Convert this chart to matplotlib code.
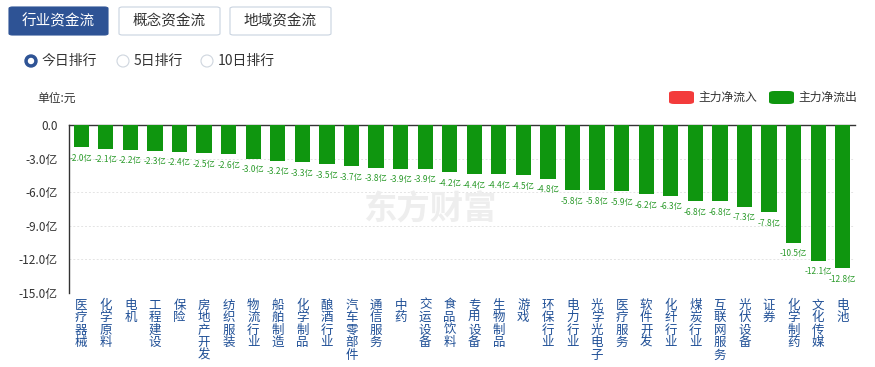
"""Industry money-flow bar chart (主力净流出), 今日排行."""

import matplotlib
matplotlib.use("Agg")
import matplotlib.pyplot as plt
from matplotlib.patches import FancyBboxPatch, Circle

plt.rcParams["font.family"] = ["Noto Sans CJK SC", "DejaVu Sans"]

# ---- data ----
industries = ["医疗器械", "化学原料", "电机", "工程建设", "保险", "房地产开发", "纺织服装",
              "物流行业", "船舶制造", "化学制品", "酿酒行业", "汽车零部件", "通信服务", "中药",
              "交运设备", "食品饮料", "专用设备", "生物制品", "游戏", "环保行业", "电力行业",
              "光学光电子", "医疗服务", "软件开发", "化纤行业", "煤炭行业", "互联网服务",
              "光伏设备", "证券", "化学制药", "文化传媒", "电池"]
net_flow = [-2.0, -2.1, -2.2, -2.3, -2.4, -2.5, -2.6, -3.0, -3.2, -3.3, -3.5, -3.7, -3.8,
            -3.9, -3.9, -4.2, -4.4, -4.4, -4.5, -4.8, -5.8, -5.8, -5.9, -6.2, -6.3, -6.8,
            -6.8, -7.3, -7.8, -10.5, -12.1, -12.8]
y_ticks = [0, -3, -6, -9, -12, -15]
tabs = ["行业资金流", "概念资金流", "地域资金流"]
ranks = ["今日排行", "5日排行", "10日排行"]

GREEN = "#0f960f"
RED = "#f33b3b"
BLUE = "#2e5395"
LABEL_BLUE = "#1f4f96"

W, H = 875, 367
fig = plt.figure(figsize=(W / 100, H / 100), dpi=100)


def px(x, y):
    """pixel coords (top-left origin) -> figure fraction"""
    return x / W, 1 - y / H


# ---- header tabs ----
tab_x = [9, 119, 230]
tab_w = [99, 101, 101]
for i, (name, x0, w) in enumerate(zip(tabs, tab_x, tab_w)):
    active = i == 0
    fx, fy = px(x0, 35)
    box = FancyBboxPatch((fx, fy), w / W, 28 / H, transform=fig.transFigure,
                         boxstyle="round,pad=0,rounding_size=0.004",
                         facecolor=BLUE if active else "white",
                         edgecolor=BLUE if active else "#c9d3e0", linewidth=0.8)
    fig.patches.append(box)
    tx, ty = px(x0 + w / 2, 21)
    fig.text(tx, ty, name, ha="center", va="center", fontsize=10.5,
             color="white" if active else "#333333")

# ---- radio buttons ----
radio_x = [31, 123, 207]
for i, (name, x0) in enumerate(zip(ranks, radio_x)):
    cx, cy = px(x0, 61)
    r = 5.5 / W
    if i == 0:
        fig.patches.append(Circle((x0, H - 61), 6, transform=None, facecolor=BLUE,
                                  edgecolor=BLUE))
        fig.patches.append(Circle((x0, H - 61), 2.5, transform=None, facecolor="white",
                                  edgecolor="white"))
    else:
        fig.patches.append(Circle((x0, H - 61), 6, transform=None, facecolor="white",
                                  edgecolor="#cfd6df", linewidth=0.8))
    tx, ty = px(x0 + 11, 61)
    fig.text(tx, ty, name, ha="left", va="center", fontsize=10, color="#333333")

# ---- unit + legend ----
fig.text(*px(37, 98), "单位:元", ha="left", va="center", fontsize=8.5, color="#333333")
for color, x0, name in [(RED, 669, "主力净流入"), (GREEN, 769, "主力净流出")]:
    fx, fy = px(x0, 104)
    fig.patches.append(FancyBboxPatch((fx, fy), 25 / W, 13 / H, transform=fig.transFigure,
                                      boxstyle="round,pad=0,rounding_size=0.006",
                                      facecolor=color, edgecolor="none"))
    fig.text(*px(x0 + 29, 97.5), name, ha="left", va="center", fontsize=8.5,
             color="#333333")

# ---- watermark ----
fig.text(*px(430, 210), "东方财富", ha="center", va="center", fontsize=24,
         fontweight="bold", color="#eeeeee", zorder=0)

# ---- chart ----
left, right, top, bottom = 69, 855, 125, 293
ax = fig.add_axes([left / W, 1 - bottom / H, (right - left) / W, (bottom - top) / H])
ax.patch.set_alpha(0)
xs = range(len(industries))
ax.bar(xs, net_flow, width=0.62, color=GREEN, zorder=3)
ax.set_xlim(-0.5, len(industries) - 0.5)
ax.set_ylim(-15, 0)
ax.set_yticks(y_ticks)
ax.set_yticklabels(["0.0"] + [f"{v:.1f}亿" for v in y_ticks[1:]], fontsize=8.5,
                   color="#333333")
ax.tick_params(axis="y", length=0, pad=8)
ax.tick_params(axis="x", length=0)
ax.set_xticks([])
for v in y_ticks[1:]:
    ax.axhline(v, color="#e4e4e4", linewidth=0.7, linestyle=(0, (2, 2)), zorder=1)
for s in ["right", "bottom"]:
    ax.spines[s].set_visible(False)
ax.spines["top"].set_color("#333333")
ax.spines["left"].set_color("#333333")
ax.spines["top"].set_linewidth(1)
ax.spines["left"].set_linewidth(1)

for i, v in enumerate(net_flow):
    ax.annotate(f"{v:.1f}亿", (i, v), xytext=(0, -8), textcoords="offset points",
                ha="center", va="center", fontsize=6, color="#2a9a2a")

# vertical category labels
for i, name in enumerate(industries):
    ax.annotate("\n".join(name), (i, -15), xytext=(0, -4), textcoords="offset points",
                ha="center", va="top", fontsize=9, color=LABEL_BLUE, linespacing=0.95,
                annotation_clip=False)

fig.savefig("out.png", dpi=100)
